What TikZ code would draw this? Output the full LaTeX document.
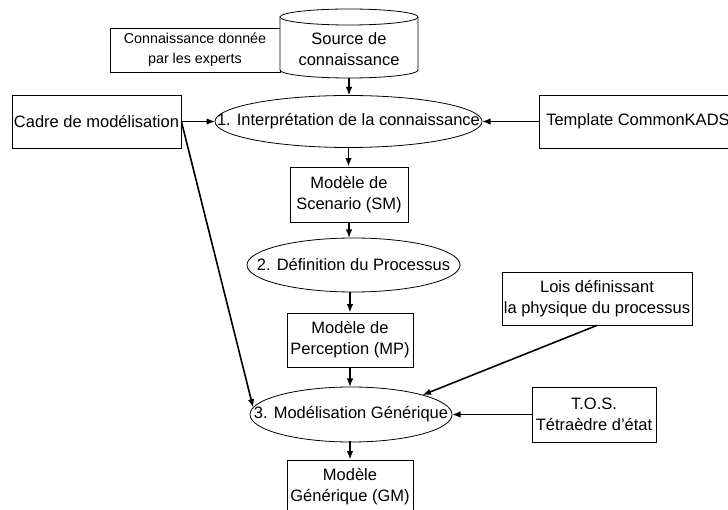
\documentclass[tikz,border=0pt]{standalone}
\usepackage{fontspec}
\setmainfont{Liberation Sans}
\usetikzlibrary{arrows.meta,shapes.geometric}
\begin{document}
\begin{tikzpicture}[x=1pt,y=-1pt,
  box/.style={draw, line width=0.8pt, inner sep=0pt, align=center, font=\fontsize{16.5}{21}\selectfont},
  proc/.style={draw, ellipse, line width=0.8pt, inner sep=0pt, outer sep=0pt},
  lbl/.style={inner sep=0pt, align=center, font=\fontsize{16.5}{21}\selectfont},
  arr/.style={line width=1.6pt, -{Latex[length=8.5pt,width=6.5pt]}}]
\useasboundingbox (0,0) rectangle (728,510);

% top: experts box and knowledge source cylinder
\node[box, font=\fontsize{14.3}{20}\selectfont, minimum width=170pt, minimum height=44pt] (experts) at (195,50) {Connaissance donnée\\par les experts};
\path[draw, fill=white, line width=0.8pt] (280,17) -- (280,70) arc[start angle=180, end angle=360, x radius=69pt, y radius=8pt] -- (418,17);
\draw[line width=0.8pt, fill=white] (349,17) ellipse[x radius=69pt, y radius=8pt];
\node[lbl] (source) at (349,49) {Source de\\connaissance};
\coordinate (srcbot) at (349,78);

% row 1
\node[box, minimum width=169pt, minimum height=53pt] (cadre) at (96.5,121.5) {Cadre de modélisation};
\node[proc, minimum width=267pt, minimum height=52pt] (e1) at (348.5,121.5) {};
\node[lbl] (t1) at (e1) {1. Interprétation de la connaissance};
\node[box, minimum width=198pt, minimum height=53pt] (template) at (638,121.5) {Template CommonKADS};

% column
\node[box, minimum width=118pt, minimum height=55pt] (sm) at (349,194.5) {Modèle de\\Scenario (SM)};
\node[proc, minimum width=213pt, minimum height=54pt] (e2) at (353.5,265) {};
\node[lbl] (t2) at (e2) {2. Définition du Processus};
\node[box, minimum width=126pt, minimum height=54pt] (mp) at (350,340) {Modèle de\\Perception (MP)};
\node[proc, minimum width=202pt, minimum height=55pt] (e3) at (351,414.5) {};
\node[lbl] (t3) at (e3) {3. Modélisation Générique};
\node[box, minimum width=126pt, minimum height=54pt] (gm) at (350,487) {Modèle\\Générique (GM)};

% right side inputs
\node[box, minimum width=190pt, minimum height=53pt] (lois) at (597,298.5) {Lois définissant\\la physique du processus};
\node[box, minimum width=124pt, minimum height=55pt] (tos) at (594,414.5) {T.O.S.\\Tétraèdre d’état};

% connectors
\draw[arr] (srcbot) -- (srcbot |- e1.north);
\draw[arr] (cadre.east) -- (e1.west);
\draw[arr] (template.west) -- (e1.east);
\draw[arr] (e1.south) -- (e1.south |- sm.north);
\draw[arr] (sm.south) -- (sm.south |- e2.north);
\draw[arr] (mp.north |- e2.south) -- (mp.north);
\draw[arr] (mp.south) -- (mp.south |- e3.north);
\draw[arr] (cadre.east) -- (e3.176);
\draw[arr] (lois.south) -- (e3.north east);
\draw[arr] (tos.west) -- (e3.east);
\draw[arr] (e3.south) -- (e3.south -| gm.north) -- (gm.north);
\end{tikzpicture}
\end{document}
